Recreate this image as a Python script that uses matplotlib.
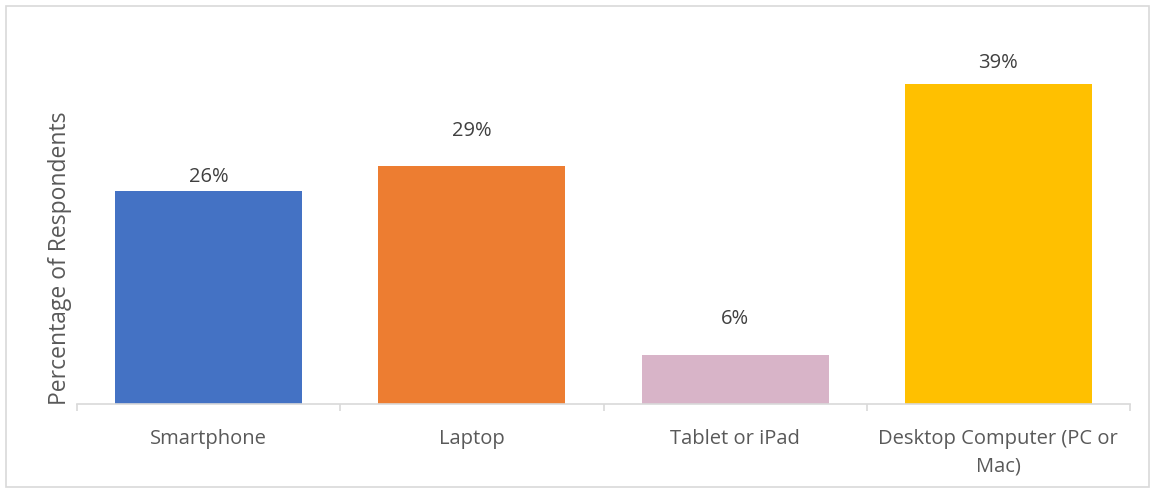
import matplotlib.pyplot as plt
from matplotlib.patches import Rectangle

# Device used by survey respondents
categories = ["Smartphone", "Laptop", "Tablet or iPad", "Desktop Computer (PC or\nMac)"]
shares = [0.26, 0.29, 0.06, 0.39]
colors = ["#4472C4", "#ED7D31", "#D8B4C8", "#FFC000"]

plt.rcParams["font.family"] = ["Open Sans", "DejaVu Sans"]

fig = plt.figure(figsize=(11.55, 4.91), dpi=100)
ax = fig.add_axes([77 / 1155, 1 - 404 / 491, (1130 - 77) / 1155, 369 / 491])

x = range(len(categories))
bars = ax.bar(x, shares, width=0.71, color=colors)

# data labels were nudged by hand in the original workbook
label_offsets = [10, 25, 25.5, 15]
for bar, val, off in zip(bars, shares, label_offsets):
    ax.annotate(f"{val:.0%}", (bar.get_x() + bar.get_width() / 2, val),
                xytext=(0, off), textcoords="offset points",
                ha="center", va="center", fontsize=14.5, color="#404040")

ax.set_xlim(-0.5, 3.5)
ax.set_ylim(0, 0.45)
for side in ["top", "right", "left"]:
    ax.spines[side].set_visible(False)
ax.spines["bottom"].set_color("#D9D9D9")
ax.spines["bottom"].set_linewidth(1.2)
ax.set_yticks([])

# category dividers on the axis line
ax.set_xticks([-0.5, 0.5, 1.5, 2.5, 3.5])
ax.set_xticklabels([])
ax.tick_params(axis="x", length=5, width=1.2, color="#D9D9D9")
for i, name in enumerate(categories):
    ax.text(i, -0.03, name, ha="center", va="top", fontsize=14.5,
            color="#595959", linespacing=1.55, transform=ax.transData, clip_on=False)

fig.text(60 / 1155, 1 - 258 / 491, "Percentage of Respondents", rotation=90,
         ha="center", va="center", fontsize=16.5, color="#595959")

fig.patches.append(Rectangle((6 / 1155, 4 / 491), 1143 / 1155, 481 / 491,
                             transform=fig.transFigure, fill=False,
                             edgecolor="#D9D9D9", linewidth=1.2))

fig.savefig("out.png", dpi=100)
